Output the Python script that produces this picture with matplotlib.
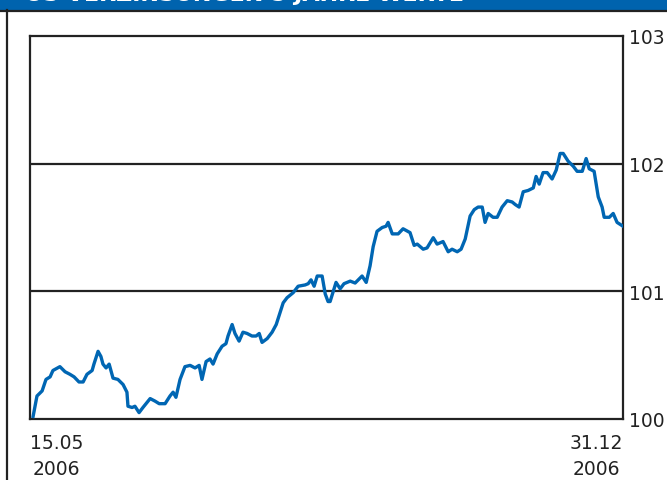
import numpy as np
import matplotlib.pyplot as plt
from matplotlib.patches import Rectangle
from matplotlib.lines import Line2D

# index level, days counted from 15.05.2006
days = [1.2, 2.7, 4.7, 6.2, 7.8, 8.9, 11.6, 13.6, 15.5, 17.1, 19.0, 20.6, 22.1, 24.1,
        24.8, 26.4, 27.5, 28.3, 29.5, 30.7, 32.2, 34.1, 36.1, 37.6, 38.0, 39.6, 40.7,
        42.3, 43.8, 46.6, 48.5, 50.1, 52.4, 54.3, 55.5, 56.6, 58.2, 60.1, 62.1, 64.0,
        65.6, 66.7, 68.3, 69.8, 71.0, 72.6, 74.5, 76.0, 76.8, 78.4, 79.5, 81.1, 82.6,
        84.2, 86.1, 87.7, 88.9, 90.0, 92.0, 93.9, 95.5, 96.6, 98.2, 99.7, 102.1, 104.0,
        106.7, 107.9, 109.0, 110.2, 111.4, 113.3, 114.5, 115.6, 116.4, 118.7, 120.3,
        121.8, 124.2, 126.1, 128.8, 130.4, 131.9, 133.1, 134.6, 136.6, 138.1, 138.9,
        140.5, 142.8, 144.7, 147.4, 149.0, 150.2, 152.5, 154.0, 156.4, 157.9, 160.2,
        162.2, 163.7, 165.7, 167.2, 168.8, 170.7, 172.3, 173.8, 175.4, 176.5, 177.7,
        179.6, 181.2, 183.1, 185.1, 187.0, 188.2, 189.7, 191.3, 193.2, 195.2, 196.3,
        197.5, 199.0, 200.6, 202.5, 204.1, 205.6, 206.8, 208.7, 210.7, 212.2, 214.2,
        215.7, 216.9, 218.8, 220.4, 221.9, 222.7, 224.7, 226.2, 227.7, 230.0]
values = [100.02, 100.18, 100.22, 100.31, 100.33, 100.38, 100.41, 100.37, 100.35, 100.33,
          100.29, 100.29, 100.35, 100.38, 100.43, 100.53, 100.49, 100.43, 100.40, 100.43,
          100.32, 100.31, 100.27, 100.21, 100.10, 100.09, 100.10, 100.05, 100.09, 100.16,
          100.14, 100.12, 100.12, 100.18, 100.21, 100.17, 100.31, 100.41, 100.42, 100.40,
          100.42, 100.31, 100.45, 100.47, 100.43, 100.51, 100.57, 100.59, 100.65, 100.74,
          100.67, 100.61, 100.68, 100.67, 100.65, 100.65, 100.67, 100.60, 100.63, 100.68,
          100.74, 100.81, 100.91, 100.95, 100.99, 101.04, 101.05, 101.06, 101.09, 101.04,
          101.12, 101.12, 100.98, 100.92, 100.92, 101.07, 101.02, 101.06, 101.08, 101.065,
          101.12, 101.07, 101.20, 101.35, 101.47, 101.50, 101.51, 101.54, 101.45, 101.45,
          101.49, 101.46, 101.36, 101.37, 101.33, 101.34, 101.42, 101.37, 101.39, 101.31,
          101.33, 101.31, 101.33, 101.41, 101.59, 101.64, 101.66, 101.66, 101.54, 101.61,
          101.58, 101.58, 101.66, 101.71, 101.70, 101.68, 101.66, 101.78, 101.79, 101.81,
          101.90, 101.84, 101.93, 101.93, 101.88, 101.95, 102.08, 102.08, 102.02, 101.98,
          101.94, 101.94, 102.04, 101.96, 101.94, 101.74, 101.66, 101.58, 101.58, 101.61,
          101.54, 101.51]

x_ticks = [0, 230]
x_labels = ['15.05\n2006', '31.12\n2006']
y_ticks = [100, 101, 102, 103]
header = 'US VERZINSUNGEN 5 JAHRE WERTE'

W, H = 667, 481
dark = '#222222'
blue = '#0066b3'

fig = plt.figure(figsize=(W / 100, H / 100), dpi=100)

# header bar and outer frame
fig.patches.append(Rectangle((0, 1 - 11 / H), 1, 11 / H, transform=fig.transFigure,
                             facecolor='#0063ae', edgecolor='none', zorder=0))
fig.lines.append(Line2D([0, 1], [1 - 12 / H, 1 - 12 / H], transform=fig.transFigure,
                        color=dark, lw=1.6))
fig.lines.append(Line2D([7 / W, 7 / W], [0, 1 - 11 / H], transform=fig.transFigure,
                        color=dark, lw=1.6))
# title sits mostly above the top edge, only its foot shows in the bar
fig.text(25 / W, 1 - 1 / H, header, color='white', fontsize=16, fontweight='bold',
         va='baseline', ha='left')

ax = fig.add_axes([30 / W, 61 / H, 593 / W, 383 / H])
ax.plot(days, values, color=blue, lw=2.4, solid_joinstyle='round', zorder=3)

ax.set_xlim(0, 230)
ax.set_ylim(100, 103)
for v in [101, 102]:
    ax.axhline(v, color=dark, lw=1.6, zorder=2)

for s in ax.spines.values():
    s.set_color(dark)
    s.set_linewidth(1.6)

ax.yaxis.tick_right()
ax.set_yticks(y_ticks)
ax.set_yticklabels([str(t) for t in y_ticks])
ax.tick_params(axis='y', length=0, pad=4, labelsize=13.5, labelcolor=dark)

ax.set_xticks(x_ticks)
ax.set_xticklabels(x_labels, linespacing=1.45)
ax.tick_params(axis='x', length=0, pad=10, labelsize=13.5, labelcolor=dark)
lbls = ax.get_xticklabels()
lbls[0].set_ha('left')
lbls[0].set_multialignment('center')
lbls[0].set_x(-1)
lbls[1].set_ha('right')
lbls[1].set_multialignment('center')

fig.savefig('out.png', dpi=100)
